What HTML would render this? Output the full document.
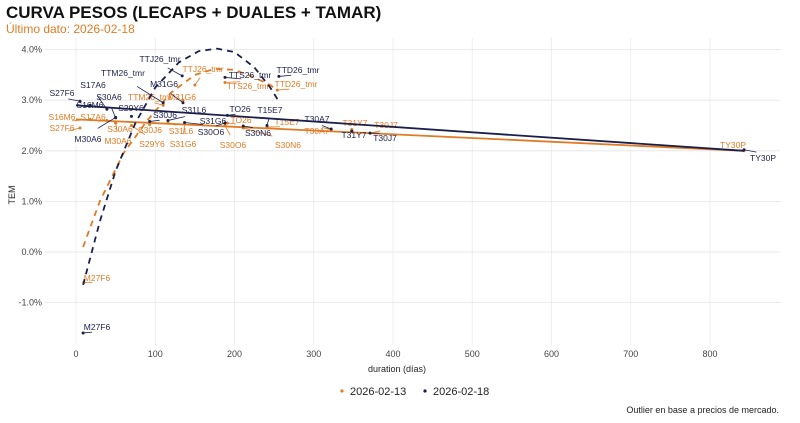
<!DOCTYPE html>
<html><head><meta charset="utf-8">
<style>
body{margin:0;background:#fff;font-family:"Liberation Sans",sans-serif;}
svg{display:block}
</style></head>
<body>
<svg id="chart" width="800" height="423" viewBox="0 0 800 423">
<text x="6" y="18" font-size="17" font-weight="bold" fill="#111">CURVA PESOS (LECAPS + DUALES + TAMAR)</text>
<text x="6" y="33" font-size="12" fill="#e07b24">Último dato: 2026-02-18</text>
<g id="grid"></g>
<g id="axes"></g>
<g id="marks"></g>
<text x="15" y="195" font-size="9" fill="#222" transform="rotate(-90 15 195)" text-anchor="middle">TEM</text>
<text x="397" y="372" font-size="9" fill="#222" text-anchor="middle">duration (días)</text>
<g>
<circle cx="342" cy="391" r="1.6" fill="#e07b24"/>
<text x="350" y="395" font-size="11" fill="#222">2026-02-13</text>
<circle cx="425" cy="391" r="1.6" fill="#1b1f4b"/>
<text x="433" y="395" font-size="11" fill="#222">2026-02-18</text>
</g>
<text x="779" y="413" font-size="9" fill="#222" text-anchor="end">Outlier en base a precios de mercado.</text>
</svg>
<script>
const xTicks=[0,100,200,300,400,500,600,700,800];
const yTicks=[-1,0,1,2,3,4];
const yTickLabels=["-1.0%","0.0%","1.0%","2.0%","3.0%","4.0%"];
const names=["M27F6","S27F6","S16M6","S17A6","S30A6","M30A6","S29Y6","S30J6","TTM26_tmr","S31L6","M31G6","TTJ26_tmr","S31G6","S30O6","TO26","TTS26_tmr","S30N6","T15E7","TTD26_tmr","T30A7","T31Y7","T30J7","TY30P"];
const dur18=[9,5,18,39,50,50,70,93,110,116,135,134,137,188,191,188,211,241,256,322,348,371,843];
const tem18=[-1.6,2.98,2.9,2.82,2.65,2.66,2.68,2.58,2.95,2.6,2.95,3.48,2.56,2.55,2.7,3.45,2.49,2.5,3.47,2.43,2.39,2.35,2.02];
const dur13=[10,5,18,39,50,50,70,93,110,116,135,150,137,188,191,188,211,241,254,322,348,371,843];
const tem13=[-0.6,2.45,2.62,2.6,2.55,2.55,2.5,2.52,2.9,2.55,3.0,3.3,2.53,2.5,2.55,3.35,2.45,2.47,3.2,2.42,2.42,2.35,2.0];
const fit18Dur=[0,843];const fit18Tem=[2.9,2.0];
const fit13Dur=[0,843];const fit13Tem=[2.62,2.0];
const curve18Dur=[9,30,50,75,100,130,155,178,200,225,245,255];
const curve18Tem=[-0.65,0.6,1.6,2.55,3.25,3.75,3.97,4.02,3.95,3.65,3.25,3.0];
const curve13Dur=[9,30,60,90,120,150,175,200,225,245,254];
const curve13Tem=[0.1,1.0,1.95,2.6,3.15,3.5,3.62,3.6,3.45,3.3,3.2];
// label layout (pixel positions, not data)
const lab18X=[97,62,90,93,109,88,131,165,123,194,164,160,213,211,240,250,258,270,298,317,354,385,763];
const lab18Y=[327,93,105,85,97,139,108,115,73,110,84,59,121,132,109,75,133,110,70,119,135,138,158];
const lab13X=[97,62,62,93,120,118,152,150,150,181,182,203,183,233,241,248,288,287,296,317,355,386,733];
const lab13Y=[278,128,117,117,129,141,144,130,97,131,97,69,144,145,120,86,145,122,84,131,123,125,145];

const X=v=>76+v*0.7925, Y=v=>252-v*50.6;
const NS="http://www.w3.org/2000/svg";
function mk(parent,tag,attrs){const e=document.createElementNS(NS,tag);for(const k in attrs)e.setAttribute(k,attrs[k]);document.getElementById(parent).appendChild(e);return e;}
const L=45,R=780,T=38,B=345;
xTicks.forEach(t=>{
  const g=mk('grid','line',{x1:X(t),x2:X(t),y1:T,y2:B,stroke:'#ebebeb','stroke-width':0.8});
  
  
  const tx=mk('axes','text',{x:X(t),y:357,'font-size':9,fill:'#444','text-anchor':'middle'});
  tx.textContent=t;
  
  
});
yTicks.forEach((t,i)=>{
  const g=mk('grid','line',{x1:L,x2:R,y1:Y(t),y2:Y(t),stroke:'#e3e3e3','stroke-width':0.8});
  
  
  const tx=mk('axes','text',{x:42,y:Y(t)+3,'font-size':9,fill:'#444','text-anchor':'end'});
  tx.textContent=yTickLabels[i];
  
  
});
function path(d,t){return d.map((v,i)=>(i?'L':'M')+X(v).toFixed(1)+','+Y(t[i]).toFixed(1)).join('');}
function series(dur,tem,fd,ft,cd,ct,lx,ly,color,key){
  const c=mk('marks','path',{d:path(cd,ct),fill:'none',stroke:color,'stroke-width':1.8,'stroke-dasharray':'6,5','stroke-linejoin':'round'});
  
  
  const f=mk('marks','path',{d:path(fd,ft),fill:'none',stroke:color,'stroke-width':1.8});
  
  
  dur.forEach((d,i)=>{
    const px=X(d),py=Y(tem[i]);
    const dx=lx[i]-px,dy=ly[i]-py;
    if(Math.hypot(dx,dy)>12){
      const ln=mk('marks','line',{x1:px,y1:py,x2:lx[i]-dx*0.35,y2:ly[i]-dy*0.35-(dy<0?-3:3),stroke:color,'stroke-width':0.8});
      
      
    }
    const p=mk('marks','circle',{cx:px,cy:py,r:1.5,fill:color});
    
    
    const t=mk('marks','text',{x:lx[i],y:ly[i]+3,'font-size':8.5,fill:color,'text-anchor':'middle'});
    t.textContent=names[i];
    
    
  });
}
series(dur13,tem13,fit13Dur,fit13Tem,curve13Dur,curve13Tem,lab13X,lab13Y,'#e07b24','0213');
series(dur18,tem18,fit18Dur,fit18Tem,curve18Dur,curve18Tem,lab18X,lab18Y,'#1b1f4b','0218');
</script>
</body></html>
